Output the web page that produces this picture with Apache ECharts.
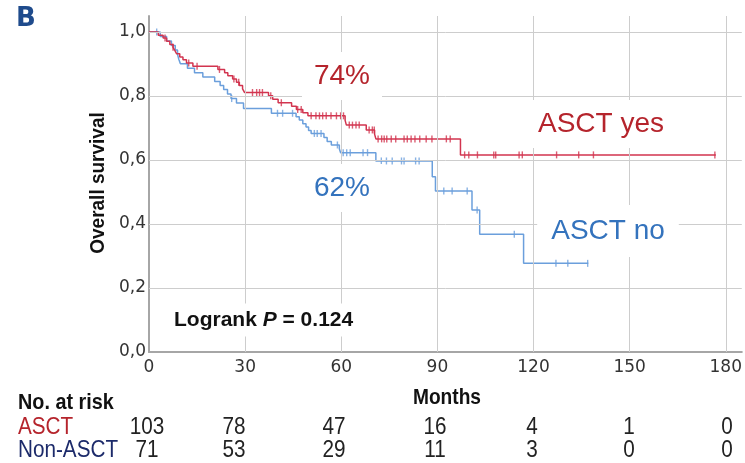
<!DOCTYPE html>
<html>
<head>
<meta charset="utf-8">
<script src="https://cdn.jsdelivr.net/npm/echarts@6/dist/echarts.min.js"></script>
<style>
  html, body { margin: 0; padding: 0; background: #fff; }
  #chart { width: 745px; height: 463px; }
</style>
</head>
<body>
<div id="chart"></div>
<script>
// Axis ticks
const xTicks = [0, 30, 60, 90, 120, 150, 180];
const yTicks = [0, 0.2, 0.4, 0.6, 0.8, 1.0];

// Kaplan-Meier steps: [month, survival after the event]
const asctSteps = [
  [0, 1.0], [2.9, 0.990], [4.4, 0.981], [5.5, 0.971], [6.5, 0.961], [7.5, 0.952],
  [8.1, 0.942], [8.6, 0.932], [9.6, 0.922], [10.6, 0.913], [11.7, 0.903], [13.7, 0.893],
  [21.5, 0.883], [23.6, 0.873], [24.6, 0.863], [26.1, 0.853], [27.3, 0.843], [28.2, 0.833],
  [29.2, 0.822], [29.8, 0.811], [37.3, 0.801], [38.6, 0.790], [40.3, 0.779], [44.5, 0.768],
  [46.0, 0.758], [48.0, 0.748], [49.6, 0.738], [61.2, 0.724], [61.6, 0.709], [67.8, 0.694],
  [70.4, 0.681], [70.8, 0.666], [97.2, 0.616], [176.9, 0.616]
];
const asctCensored = [
  5.0, 7.5, 12.4, 15.0, 22.0, 26.5, 28.0, 32.3, 33.6, 34.5, 35.4, 38.0, 41.3, 46.4, 47.5,
  50.6, 52.1, 53.2, 54.2, 55.3, 56.8, 58.5, 59.8, 60.7, 62.5, 63.5, 64.6, 65.6, 68.7, 69.7,
  70.3, 71.5, 72.6, 73.4, 74.2, 75.6, 77.0, 79.6, 80.6, 81.8, 83.0, 84.5, 86.5, 88.3, 92.8,
  94.0, 98.5, 99.8, 102.5, 107.6, 108.2, 115.5, 116.5, 127.2, 134.1, 138.7, 176.6
];

const nonAsctSteps = [
  [0, 1.0], [3.5, 0.986], [5.5, 0.972], [7.0, 0.958], [8.2, 0.944], [8.9, 0.930],
  [9.3, 0.915], [9.8, 0.901], [12.0, 0.887], [14.2, 0.873], [16.8, 0.859], [20.5, 0.845],
  [22.2, 0.833], [23.3, 0.820], [24.5, 0.806], [25.6, 0.792], [27.3, 0.778], [29.5, 0.761],
  [38.2, 0.746], [45.9, 0.735], [46.9, 0.725], [48.0, 0.713], [49.0, 0.703], [49.8, 0.692],
  [50.6, 0.683], [54.6, 0.670], [55.6, 0.658], [56.9, 0.647], [59.4, 0.635], [59.8, 0.623],
  [70.8, 0.597], [88.4, 0.548], [89.4, 0.503], [100.8, 0.444], [103.2, 0.368], [116.9, 0.277],
  [137.1, 0.277]
];
const nonAsctCensored = [
  2.4, 25.8, 40.1, 41.7, 44.8, 51.6, 52.5, 53.7, 58.8, 60.6, 61.7, 62.8, 66.8, 68.2, 72.5,
  74.1, 75.9, 78.8, 79.6, 83.2, 84.3, 92.0, 94.6, 99.3, 102.4, 114.0, 127.0, 130.7, 136.9
];

// Numbers at risk
const riskGroups = ['ASCT', 'Non-ASCT'];
const riskAsct = [103, 78, 47, 16, 4, 1, 0];
const riskNonAsct = [71, 53, 29, 11, 3, 0, 0];

const RED_LINE = '#d2344f';
const BLUE_LINE = '#6b9fdc';
const RED_TEXT = '#b5242c';
const BLUE_TEXT = '#3473bd';
const NAVY_TEXT = '#1c2a6a';
const FONT = '"Liberation Sans", Arial, sans-serif';
const TICK_FONT = '"DejaVu Sans", Verdana, sans-serif';

function survivalAt(steps, t) {
  let s = steps[0][1];
  for (const [time, value] of steps) {
    if (time <= t) s = value; else break;
  }
  return s;
}

const chart = echarts.init(document.getElementById('chart'), null, { renderer: 'canvas' });

function label(text, x, y, color, size, extra, props) {
  return Object.assign({
    type: 'text', x: x, y: y, z: 100,
    style: Object.assign({
      text: text, fill: color, font: size + 'px ' + FONT,
      align: 'center', verticalAlign: 'middle',
      textAlign: 'center', textVerticalAlign: 'middle'
    }, extra || {})
  }, props || {});
}

const boxed = (pad) => ({ backgroundColor: '#fff', padding: pad });
const narrow = { scaleX: 0.9 };
const leftAlign = { align: 'left', textAlign: 'left' };

// at-risk table, one column per x tick
const tableCols = [147, 234, 334, 435, 532, 629, 727];
const tableGraphics = [];
riskAsct.forEach((v, i) => tableGraphics.push(label(String(v), tableCols[i], 428, '#222', 23, null, narrow)));
riskNonAsct.forEach((v, i) => tableGraphics.push(label(String(v), tableCols[i], 451, '#222', 23, null, narrow)));

const option = {
  animation: false,
  backgroundColor: '#fff',
  grid: { left: 149, right: 1, top: 16, bottom: 111 },
  xAxis: {
    type: 'value', min: 0, max: 185, interval: 30,
    axisLine: { show: true, lineStyle: { color: '#a6a6a6', width: 2 } },
    axisTick: { show: false },
    splitLine: { show: false },
    axisLabel: {
      margin: 7, color: '#333', fontSize: 17, fontFamily: TICK_FONT,
      formatter: v => (xTicks.indexOf(v) >= 0 ? String(v) : '')
    }
  },
  yAxis: {
    type: 'value', min: 0, max: 1.05, interval: 0.2,
    axisLine: { show: true, lineStyle: { color: '#a6a6a6', width: 2 } },
    axisTick: { show: false },
    splitLine: { show: false },
    axisLabel: {
      margin: 3, color: '#333', fontSize: 17, fontFamily: TICK_FONT,
      formatter: v => (v <= 1.0001 ? v.toFixed(1).replace('.', ',') : '')
    }
  },
  series: [
    {
      // reference grid lines at the tick positions
      type: 'line', data: [[0, 0]], showSymbol: false, silent: true, z: 1,
      lineStyle: { opacity: 0 },
      markLine: {
        silent: true, symbol: 'none', animation: false,
        label: { show: false },
        lineStyle: { color: '#cdcdcd', width: 1, type: 'solid' },
        emphasis: { disabled: true },
        data: xTicks.slice(1).map(v => ({ xAxis: v }))
          .concat(yTicks.slice(1).map(v => ({ yAxis: v })))
      }
    },
    {
      name: 'Non-ASCT', type: 'line', step: 'end', data: nonAsctSteps,
      showSymbol: false, z: 3,
      lineStyle: { color: BLUE_LINE, width: 1.5 }
    },
    {
      name: 'ASCT', type: 'line', step: 'end', data: asctSteps,
      showSymbol: false, z: 4,
      lineStyle: { color: RED_LINE, width: 1.5 }
    },
    {
      name: 'Non-ASCT censored', type: 'scatter', z: 3,
      data: nonAsctCensored.map(t => [t, survivalAt(nonAsctSteps, t)]),
      symbol: 'rect', symbolSize: [1.4, 7],
      itemStyle: { color: BLUE_LINE }
    },
    {
      name: 'ASCT censored', type: 'scatter', z: 4,
      data: asctCensored.map(t => [t, survivalAt(asctSteps, t)]),
      symbol: 'rect', symbolSize: [1.4, 7],
      itemStyle: { color: RED_LINE }
    }
  ],
  graphic: [
    label('B', 26, 19, '#1f4b8c', 26, { font: 'bold 26px "DejaVu Sans", sans-serif' }),
    label('Overall survival', 98, 183, '#111', 20, { font: 'bold 20px ' + FONT }, { rotation: Math.PI / 2, scaleX: 0.95 }),
    label('Months', 447, 398, '#111', 22, { font: 'bold 22px ' + FONT }, { scaleX: 0.87 }),
    label('74%', 342, 76, RED_TEXT, 28, boxed([10, 12])),
    label('62%', 342, 188, BLUE_TEXT, 28, boxed([10, 12])),
    label('ASCT yes', 601, 124, RED_TEXT, 28, boxed([10, 12])),
    label('ASCT no', 608, 231, BLUE_TEXT, 28, boxed([12, 14])),
    {
      type: 'text', x: 166, y: 320, z: 100,
      style: {
        text: 'Logrank {i|P} = 0.124', fill: '#111', font: 'bold 21px ' + FONT,
        align: 'left', verticalAlign: 'middle', textAlign: 'left', textVerticalAlign: 'middle',
        backgroundColor: '#fff', padding: [6, 8],
        rich: { i: { font: 'italic bold 21px ' + FONT, fill: '#111' } }
      }
    },
    label('No. at risk', 18, 403, '#111', 22, Object.assign({ font: 'bold 22px ' + FONT }, leftAlign), narrow),
    label(riskGroups[0], 18, 428, RED_TEXT, 23, leftAlign, narrow),
    label(riskGroups[1], 18, 451, NAVY_TEXT, 23, leftAlign, narrow)
  ].concat(tableGraphics)
};

chart.setOption(option);
</script>
</body>
</html>
